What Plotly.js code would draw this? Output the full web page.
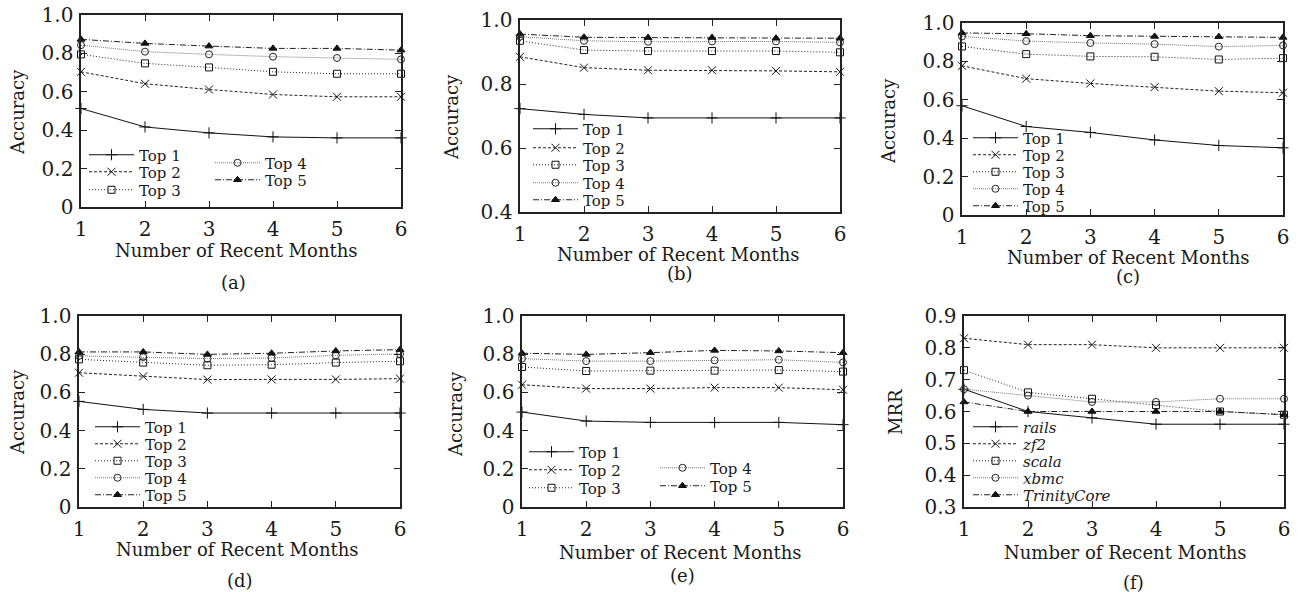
<!DOCTYPE html>
<html>
<head>
<meta charset="utf-8">
<script src="https://cdn.plot.ly/plotly-3.0.1.min.js"></script>
<style>html,body{margin:0;padding:0;background:#fff;}#chart{width:1299px;height:592px;}</style>
</head>
<body>
<div id="chart"></div>
<script>
// ---------------- data ----------------
var months = [1, 2, 3, 4, 5, 6];
var xTickText = ["1", "2", "3", "4", "5", "6"];

var topNames = ["Top 1", "Top 2", "Top 3", "Top 4", "Top 5"];
var projNames = ["<i>rails</i>", "<i>zf2</i>", "<i>scala</i>", "<i>xbmc</i>", "<i>TrinityCore</i>"];

// (a)
var aTop1 = [0.513, 0.417, 0.386, 0.365, 0.360, 0.360];
var aTop2 = [0.704, 0.642, 0.612, 0.586, 0.574, 0.574];
var aTop3 = [0.795, 0.748, 0.727, 0.704, 0.694, 0.694];
var aTop4 = [0.843, 0.809, 0.795, 0.783, 0.776, 0.769];
var aTop5 = [0.873, 0.852, 0.838, 0.826, 0.826, 0.817];
// (b)
var bTop1 = [0.723, 0.705, 0.694, 0.694, 0.694, 0.694];
var bTop2 = [0.885, 0.851, 0.843, 0.843, 0.841, 0.838];
var bTop3 = [0.935, 0.906, 0.903, 0.903, 0.903, 0.899];
var bTop4 = [0.948, 0.935, 0.932, 0.933, 0.933, 0.930];
var bTop5 = [0.956, 0.946, 0.945, 0.945, 0.943, 0.943];
// (c)
var cTop1 = [0.569, 0.461, 0.430, 0.391, 0.362, 0.350];
var cTop2 = [0.777, 0.710, 0.685, 0.666, 0.645, 0.637];
var cTop3 = [0.878, 0.838, 0.826, 0.824, 0.810, 0.817];
var cTop4 = [0.930, 0.906, 0.896, 0.890, 0.877, 0.883];
var cTop5 = [0.948, 0.944, 0.934, 0.930, 0.929, 0.925];
// (d)
var dTop1 = [0.553, 0.511, 0.492, 0.492, 0.492, 0.492];
var dTop2 = [0.703, 0.684, 0.667, 0.668, 0.668, 0.672];
var dTop3 = [0.773, 0.756, 0.742, 0.745, 0.756, 0.763];
var dTop4 = [0.791, 0.785, 0.777, 0.780, 0.794, 0.801];
var dTop5 = [0.812, 0.812, 0.799, 0.805, 0.817, 0.824];
// (e)
var eTop1 = [0.497, 0.450, 0.443, 0.442, 0.443, 0.431];
var eTop2 = [0.640, 0.620, 0.620, 0.625, 0.625, 0.614];
var eTop3 = [0.733, 0.712, 0.714, 0.714, 0.717, 0.709];
var eTop4 = [0.777, 0.764, 0.764, 0.768, 0.771, 0.757];
var eTop5 = [0.805, 0.799, 0.808, 0.820, 0.817, 0.808];
// (f) MRR
var fRails = [0.67, 0.60, 0.58, 0.56, 0.56, 0.56];
var fZf2 = [0.83, 0.81, 0.81, 0.80, 0.80, 0.80];
var fScala = [0.73, 0.66, 0.64, 0.62, 0.60, 0.59];
var fXbmc = [0.67, 0.65, 0.63, 0.63, 0.64, 0.64];
var fTrinity = [0.63, 0.60, 0.60, 0.60, 0.60, 0.59];

var accTickVals = [0, 0.2, 0.4, 0.6, 0.8, 1.0];
var accTickText = ["0", "0.2", "0.4", "0.6", "0.8", "1.0"];
var accBTickVals = [0.4, 0.6, 0.8, 1.0];
var accBTickText = ["0.4", "0.6", "0.8", "1.0"];
var mrrTickVals = [0.3, 0.4, 0.5, 0.6, 0.7, 0.8, 0.9];
var mrrTickText = ["0.3", "0.4", "0.5", "0.6", "0.7", "0.8", "0.9"];

var captions = ["(a)", "(b)", "(c)", "(d)", "(e)", "(f)"];
var xTitle = "Number of Recent Months";

// ---------------- layout helpers ----------------
var W = 1299, H = 592;
var FONT = "DejaVu Serif";
var INK = "#1a1a1a";
function px(x) { return x / W; }
function py(y) { return 1 - y / H; }

// plot areas in pixels [left, right, top, bottom]
var boxes = [
  [81, 401, 15, 207],
  [520, 840, 20, 212],
  [962, 1283, 23, 215],
  [79, 400, 316, 507],
  [522, 843, 316, 507],
  [964, 1284, 316, 507]
];

var styles = [
  {dash: "solid", symbol: "cross-thin-open", size: 8, color: "#111", lcolor: "#111"},
  {dash: "3px,2px", symbol: "x-thin-open", size: 8, color: "#111", lcolor: "#222"},
  {dash: "1px,2px", symbol: "square-open", size: 7, color: "#111", lcolor: "#222"},
  {dash: "1px,1px", symbol: "circle-open", size: 7, color: "#222", lcolor: "#777"},
  {dash: "6px,2px,1px,2px", symbol: "triangle-up", size: 7, color: "#111", lcolor: "#222"}
];

var panelSeries = [
  [aTop1, aTop2, aTop3, aTop4, aTop5],
  [bTop1, bTop2, bTop3, bTop4, bTop5],
  [cTop1, cTop2, cTop3, cTop4, cTop5],
  [dTop1, dTop2, dTop3, dTop4, dTop5],
  [eTop1, eTop2, eTop3, eTop4, eTop5],
  [fRails, fZf2, fScala, fXbmc, fTrinity]
];
var panelNames = [topNames, topNames, topNames, topNames, topNames, projNames];

// legend entry positions in pixels: [line start x, centre y]
var legendPos = [
  [[89, 155], [89, 172], [89, 190], [215, 163], [215, 180]],
  [[533, 129], [533, 148], [533, 165], [533, 183], [533, 200]],
  [[973, 138], [973, 155], [973, 172], [973, 189], [973, 206]],
  [[95, 427], [95, 444], [95, 461], [95, 478], [95, 495]],
  [[529, 452], [529, 470], [529, 488], [660, 468], [660, 486]],
  [[973, 427], [973, 444], [973, 461], [973, 478], [973, 495]]
];

var data = [];
var layout = {
  width: W, height: H,
  margin: {l: 0, r: 0, t: 0, b: 0},
  paper_bgcolor: "#fff", plot_bgcolor: "#fff",
  font: {family: FONT, size: 17, color: INK},
  showlegend: true,
  annotations: []
};

var legendCount = 0;
for (var p = 0; p < 6; p++) {
  var b = boxes[p];
  var sfx = p === 0 ? "" : String(p + 1);
  var yVals = p === 1 ? accBTickVals : (p === 5 ? mrrTickVals : accTickVals);
  var yText = p === 1 ? accBTickText : (p === 5 ? mrrTickText : accTickText);
  var yRange = [yVals[0], yVals[yVals.length - 1]];
  var common = {
    showline: true, linecolor: "#222", linewidth: 1.6, mirror: "allticks",
    ticks: "inside", ticklen: 6, tickwidth: 1, tickcolor: "#222",
    showgrid: false, zeroline: false, fixedrange: true,
    tickfont: {family: FONT, size: 20, color: INK}
  };
  layout["xaxis" + sfx] = Object.assign({}, common, {
    domain: [px(b[0]), px(b[1])], range: [1, 6],
    tickvals: months, ticktext: xTickText,
    anchor: "y" + sfx, ticklabelstandoff: 3
  });
  layout["yaxis" + sfx] = Object.assign({}, common, {
    domain: [py(b[3]), py(b[2])], range: yRange,
    tickvals: yVals, ticktext: yText,
    anchor: "x" + sfx, ticklabelstandoff: 2
  });

  for (var s = 0; s < 5; s++) {
    legendCount++;
    var lid = legendCount === 1 ? "legend" : "legend" + legendCount;
    var st = styles[s];
    data.push({
      type: "scatter", mode: "lines+markers",
      x: months, y: panelSeries[p][s],
      name: panelNames[p][s],
      xaxis: "x" + sfx, yaxis: "y" + sfx,
      legend: lid, cliponaxis: false,
      line: {color: st.lcolor, width: 1, dash: st.dash},
      marker: {symbol: st.symbol, size: st.size, color: st.color,
               line: {color: st.color, width: 1}}
    });
    var lp = legendPos[p][s];
    layout[lid] = {
      x: px(lp[0] - 5), y: py(lp[1]), xanchor: "left", yanchor: "middle",
      bgcolor: "rgba(0,0,0,0)", borderwidth: 0,
      font: {family: FONT, size: 15, color: INK},
      itemwidth: 45, itemclick: false, itemdoubleclick: false
    };
  }
}

// titles and captions (pixel positions)
var xTitlePos = [[236, 250], [678, 255], [1128, 257], [238, 549], [680, 552], [1125, 552]];
var yTitlePos = [[17, 112], [452, 117], [888, 121], [17, 412], [455, 414], [895, 412]];
var capPos = [[233, 282], [680, 273], [1128, 276], [240, 580], [683, 575], [1133, 582]];
for (var q = 0; q < 6; q++) {
  layout.annotations.push({
    xref: "paper", yref: "paper", x: px(xTitlePos[q][0]), y: py(xTitlePos[q][1]),
    xanchor: "center", yanchor: "middle", showarrow: false,
    text: xTitle, font: {family: FONT, size: 18, color: INK}
  });
  layout.annotations.push({
    xref: "paper", yref: "paper", x: px(yTitlePos[q][0]), y: py(yTitlePos[q][1]),
    xanchor: "center", yanchor: "middle", showarrow: false, textangle: -90,
    text: q === 5 ? "MRR" : "Accuracy", font: {family: FONT, size: 18, color: INK}
  });
  layout.annotations.push({
    xref: "paper", yref: "paper", x: px(capPos[q][0]), y: py(capPos[q][1]),
    xanchor: "center", yanchor: "middle", showarrow: false,
    text: captions[q], font: {family: FONT, size: 18, color: INK}
  });
}

Plotly.newPlot("chart", data, layout, {staticPlot: true, displayModeBar: false});
</script>
</body>
</html>
